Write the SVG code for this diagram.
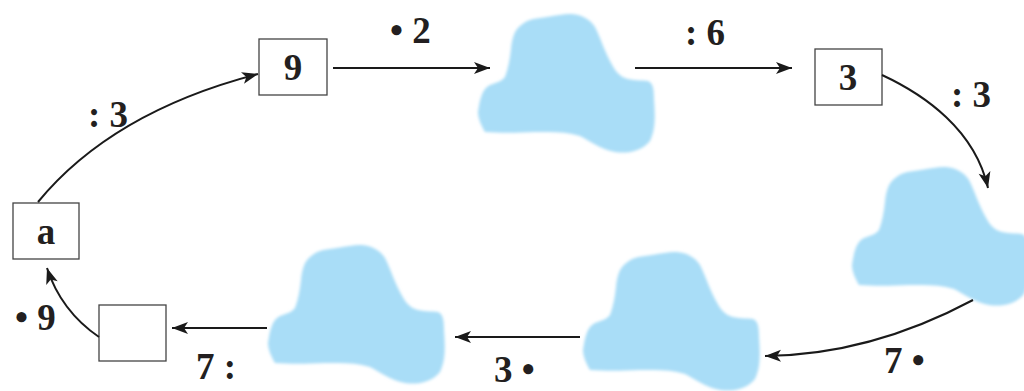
<svg xmlns="http://www.w3.org/2000/svg" xmlns:xlink="http://www.w3.org/1999/xlink" width="1024" height="391" viewBox="0 0 1024 391">
<style>
.box{fill:#fff;stroke:#444;stroke-width:1.3}
.t{font-family:"Liberation Serif","Times New Roman",serif;font-weight:bold;font-size:37px;fill:#231f20}
.c{text-anchor:middle}
.ln{fill:none;stroke:#1a1a1a;stroke-width:2}
.cloud{fill:#a9ddf7;filter:url(#soft)}
</style>
<defs>
<filter id="soft" x="-10%" y="-10%" width="120%" height="120%"><feGaussianBlur stdDeviation="1.4"/></filter>
<marker id="ah" markerUnits="userSpaceOnUse" markerWidth="20" markerHeight="16" refX="17" refY="8" orient="auto" viewBox="0 0 20 16">
<path d="M17,8 L1,2 L5,8 L1,14 Z" fill="#1a1a1a"/>
</marker>
<path id="cl" d="M275,363 C271,356 268,349 268,343 C270,330 272,320 280,316 C288,313 292,312 295,308 C298,300 300,290 301,280 C302,270 304,262 310,257 C316,252 320,250 330,249 C345,247 352,245 362,245 C372,246 380,250 385,258 C390,268 394,280 398,288 C403,298 407,306 415,309 C422,312 432,311 438,312 C443,314 444,320 444,330 C445,345 446,360 440,372 C432,382 418,385 405,383 C390,380 380,372 370,367 C355,362 340,363 325,363 C305,364 290,364 275,363 Z"/>
</defs>
<rect width="1024" height="391" fill="#fff"/>
<g id="cloud-top"><use xlink:href="#cl" class="cloud" transform="translate(210,-231)"/></g>
<g id="cloud-right"><use xlink:href="#cl" class="cloud" transform="translate(584,-78)"/></g>
<g id="cloud-bottom-mid"><use xlink:href="#cl" class="cloud" transform="translate(315,7)"/></g>
<g id="cloud-bottom-left"><use xlink:href="#cl" class="cloud"/></g>
<g id="node-a"><rect class="box" x="13" y="203" width="66" height="56"/><text class="t c" x="46" y="244">a</text></g>
<g id="node-9"><rect class="box" x="259" y="39" width="68" height="56"/><text class="t c" x="293" y="80">9</text></g>
<g id="node-3"><rect class="box" x="815" y="49" width="67" height="56"/><text class="t c" x="848" y="90">3</text></g>
<g id="node-empty"><rect class="box" x="99" y="305" width="67" height="56"/></g>
<g id="connectors">
<path class="ln" d="M38,202 Q112,112 258,74" marker-end="url(#ah)"/>
<path class="ln" d="M333,68 L490,68" marker-end="url(#ah)"/>
<path class="ln" d="M635,68 L792,68" marker-end="url(#ah)"/>
<path class="ln" d="M882,75 C925,95 975,130 988,188" marker-end="url(#ah)"/>
<path class="ln" d="M973,300 Q870,355 765,356" marker-end="url(#ah)"/>
<path class="ln" d="M580,337 L455,337" marker-end="url(#ah)"/>
<path class="ln" d="M267,328 L172,328" marker-end="url(#ah)"/>
<path class="ln" d="M99,337 Q61,311 47,268" marker-end="url(#ah)"/>
</g>
<g id="labels">
<text class="t" x="88" y="127">: 3</text>
<text class="t" x="390" y="43">• 2</text>
<text class="t" x="685" y="45">: 6</text>
<text class="t" x="951" y="107">: 3</text>
<text class="t" x="884" y="373">7 •</text>
<text class="t" x="494" y="382">3 •</text>
<text class="t" x="196" y="379">7 :</text>
<text class="t" x="15" y="330">• 9</text>
</g>
</svg>
